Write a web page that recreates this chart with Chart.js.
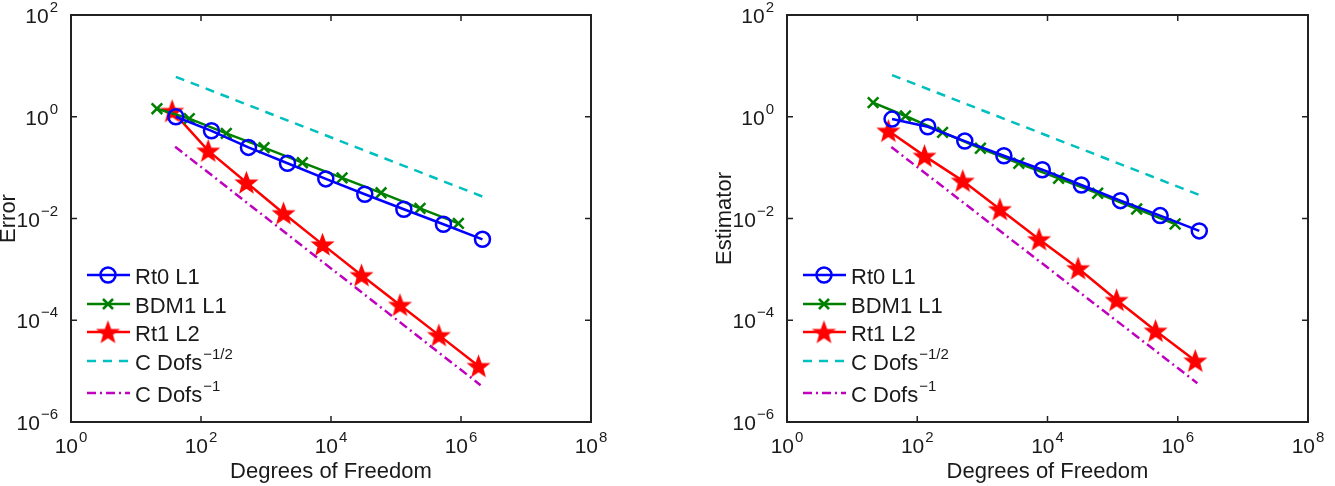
<!DOCTYPE html>
<html lang="en">
<head>
<meta charset="UTF-8">
<title>Error and estimator convergence</title>
<script src="https://cdn.jsdelivr.net/npm/chart.js"></script>
<style>
  body { margin: 0; background: #fff; }
  #wrap { position: relative; width: 1335px; height: 486px; }
  canvas { position: absolute; top: 0; }
</style>
</head>
<body>
<div id="wrap">
  <canvas id="errChart" width="667" height="486" style="left:0"></canvas>
  <canvas id="estChart" width="668" height="486" style="left:667px"></canvas>
</div>
<script>
// degrees of freedom for each method
const dofRt0  = [41, 145, 537, 2140, 8320, 33100, 132000, 537000, 2140000];
const dofBdm1 = [21, 66, 245, 933, 3630, 14800, 58900, 234000, 912000];
const dofRt1  = [36, 129, 500, 1860, 7410, 29500, 115000, 457000, 1860000];

// left plot: error
const errRt0  = [1.0, 0.53, 0.25, 0.122, 0.060, 0.030, 0.0152, 0.0077, 0.0039];
const errBdm1 = [1.44, 0.92, 0.47, 0.247, 0.125, 0.063, 0.032, 0.0158, 0.0080];
const errRt1  = [1.30, 0.215, 0.051, 0.0127, 0.0031, 0.00077, 0.00020, 0.000051, 0.0000126];

// right plot: estimator
const estRt0  = [0.90, 0.637, 0.333, 0.171, 0.091, 0.0456, 0.0224, 0.0114, 0.0057];
const estBdm1 = [1.89, 1.035, 0.494, 0.240, 0.122, 0.0617, 0.0313, 0.0154, 0.0078];
const estRt1  = [0.53, 0.170, 0.055, 0.0152, 0.0039, 0.00105, 0.00025, 0.000062, 0.000016];

// reference slopes (two end points each)
const refHalfDof   = [41, 2140000];
const errRefHalf   = [6.1, 0.027];
const estRefHalf   = [6.6, 0.029];
const refOneDof    = [40, 2000000];
const errRefOne    = [0.258, 0.0000053];
const estRefOne    = [0.254, 0.0000058];

const xTicks = [0, 2, 4, 6, 8];     // powers of ten
const yTicks = [-6, -4, -2, 0, 2];

const FONT = '"Liberation Sans", Arial, Helvetica, sans-serif';
const INK = '#1a1a1a';
const LW = 2.5;

function pts(xs, ys) {
  return xs.map((x, i) => ({ x: x, y: ys[i] }));
}

function makeStar(r, color) {
  const c = document.createElement('canvas');
  const s = Math.ceil(r * 2 + 4);
  c.width = s; c.height = s;
  const g = c.getContext('2d');
  g.translate(s / 2, s / 2 + 1);
  g.beginPath();
  for (let i = 0; i < 10; i++) {
    const rad = i % 2 === 0 ? r : r * 0.42;
    const a = -Math.PI / 2 + i * Math.PI / 5;
    g.lineTo(rad * Math.cos(a), rad * Math.sin(a));
  }
  g.closePath();
  g.fillStyle = color; g.fill();
  g.lineWidth = 1.5; g.strokeStyle = color; g.stroke();
  return c;
}
const star = makeStar(10.5, '#ff0000');

const legendItems = [
  { main: 'Rt0 L1', sup: '', color: '#0000ff', dash: [], marker: 'circle' },
  { main: 'BDM1 L1', sup: '', color: '#008000', dash: [], marker: 'x' },
  { main: 'Rt1 L2', sup: '', color: '#ff0000', dash: [], marker: 'star' },
  { main: 'C Dofs', sup: '\u22121/2', color: '#00bfbf', dash: [9, 7], marker: '' },
  { main: 'C Dofs', sup: '\u22121', color: '#bf00bf', dash: [9, 4, 2, 4], marker: '' }
];
const legendRows = [260, 289, 317, 346, 378];

function powLabel(ctx, e, x, y, align) {
  const exp = e < 0 ? '\u2212' + (-e) : String(e);
  ctx.font = '21px ' + FONT;
  const w1 = ctx.measureText('10').width;
  ctx.font = '15px ' + FONT;
  const w2 = ctx.measureText(exp).width;
  const total = w1 + 1 + w2;
  let x0 = align === 'right' ? x - total : x - total / 2;
  ctx.textAlign = 'left';
  ctx.textBaseline = 'alphabetic';
  ctx.font = '21px ' + FONT;
  ctx.fillText('10', x0, y);
  ctx.font = '15px ' + FONT;
  ctx.fillText(exp, x0 + w1 + 1, y - 11);
}

function drawMarker(ctx, kind, x, y, color) {
  ctx.save();
  ctx.setLineDash([]);
  ctx.strokeStyle = color;
  ctx.lineWidth = LW;
  if (kind === 'circle') {
    ctx.beginPath(); ctx.arc(x, y, 7.5, 0, Math.PI * 2); ctx.stroke();
  } else if (kind === 'x') {
    const d = 5;
    ctx.beginPath();
    ctx.moveTo(x - d, y - d); ctx.lineTo(x + d, y + d);
    ctx.moveTo(x - d, y + d); ctx.lineTo(x + d, y - d);
    ctx.stroke();
  } else if (kind === 'star') {
    ctx.drawImage(star, x - star.width / 2, y - star.height / 2);
  }
  ctx.restore();
}

const framePlugin = {
  id: 'frame',
  afterDraw(chart, args, opts) {
    const ctx = chart.ctx;
    const a = chart.chartArea;
    const sx = chart.scales.x, sy = chart.scales.y;
    ctx.save();
    ctx.fillStyle = INK;
    ctx.strokeStyle = '#222';

    // box
    ctx.lineWidth = 2;
    ctx.strokeRect(a.left, a.top, a.right - a.left, a.bottom - a.top);

    // inward tick marks + labels
    ctx.lineWidth = 1.5;
    xTicks.forEach(p => {
      const px = sx.getPixelForValue(Math.pow(10, p));
      ctx.beginPath();
      ctx.moveTo(px, a.bottom); ctx.lineTo(px, a.bottom - 6);
      ctx.moveTo(px, a.top); ctx.lineTo(px, a.top + 6);
      ctx.stroke();
      powLabel(ctx, p, px, a.bottom + 31, 'center');
    });
    yTicks.forEach(p => {
      const py = sy.getPixelForValue(Math.pow(10, p));
      ctx.beginPath();
      ctx.moveTo(a.left, py); ctx.lineTo(a.left + 6, py);
      ctx.moveTo(a.right, py); ctx.lineTo(a.right - 6, py);
      ctx.stroke();
      powLabel(ctx, p, a.left - 13, py + 8, 'right');
    });

    // axis titles
    ctx.font = '22px ' + FONT;
    ctx.textAlign = 'center';
    ctx.textBaseline = 'alphabetic';
    ctx.fillText('Degrees of Freedom', (a.left + a.right) / 2, 478);
    ctx.save();
    ctx.translate(a.left - 56, (a.top + a.bottom) / 2);
    ctx.rotate(-Math.PI / 2);
    ctx.fillText(opts.yTitle, 0, 0);
    ctx.restore();

    // legend
    legendItems.forEach((it, i) => {
      const y = a.top + legendRows[i];
      const x0 = a.left + 16;
      ctx.save();
      ctx.strokeStyle = it.color;
      ctx.lineWidth = LW;
      ctx.setLineDash(it.dash);
      ctx.beginPath(); ctx.moveTo(x0, y); ctx.lineTo(x0 + 43, y); ctx.stroke();
      ctx.restore();
      if (it.marker) drawMarker(ctx, it.marker, x0 + 21, y, it.color);
      ctx.fillStyle = INK;
      ctx.textAlign = 'left';
      ctx.font = '22px ' + FONT;
      ctx.fillText(it.main, x0 + 48, y + 9);
      if (it.sup) {
        const w = ctx.measureText(it.main).width;
        ctx.font = '15px ' + FONT;
        ctx.fillText(it.sup, x0 + 49 + w, y - 2);
      }
    });
    ctx.restore();
  }
};

function buildChart(id, yTitle, rt0, bdm1, rt1, half, one, pad) {
  return new Chart(document.getElementById(id), {
    type: 'line',
    data: {
      datasets: [
        { data: pts(dofRt0, rt0), borderColor: '#0000ff', borderWidth: LW,
          pointStyle: 'circle', pointRadius: 7.5, pointBorderWidth: LW,
          pointBorderColor: '#0000ff', pointBackgroundColor: 'rgba(0,0,0,0)' },
        { data: pts(dofBdm1, bdm1), borderColor: '#008000', borderWidth: LW,
          pointStyle: 'crossRot', pointRadius: 7.5, pointBorderWidth: LW,
          pointBorderColor: '#008000' },
        { data: pts(dofRt1, rt1), borderColor: '#ff0000', borderWidth: LW,
          pointStyle: star, pointRadius: 10 },
        { data: pts(refHalfDof, half), borderColor: '#00bfbf', borderWidth: LW,
          borderDash: [9, 7], pointRadius: 0 },
        { data: pts(refOneDof, one), borderColor: '#bf00bf', borderWidth: LW,
          borderDash: [9, 4, 2, 4], pointRadius: 0 }
      ]
    },
    options: {
      responsive: false,
      animation: false,
      layout: { padding: pad },
      elements: { line: { tension: 0, fill: false } },
      plugins: {
        legend: { display: false },
        tooltip: { enabled: false },
        frame: { yTitle: yTitle }
      },
      scales: {
        x: { type: 'logarithmic', min: 1, max: 1e8, display: false },
        y: { type: 'logarithmic', min: 1e-6, max: 1e2, display: false }
      }
    },
    plugins: [framePlugin]
  });
}

buildChart('errChart', 'Error', errRt0, errBdm1, errRt1, errRefHalf, errRefOne,
  { left: 71, top: 15, right: 76, bottom: 64 });
buildChart('estChart', 'Estimator', estRt0, estBdm1, estRt1, estRefHalf, estRefOne,
  { left: 120, top: 15, right: 27, bottom: 64 });
</script>
</body>
</html>
